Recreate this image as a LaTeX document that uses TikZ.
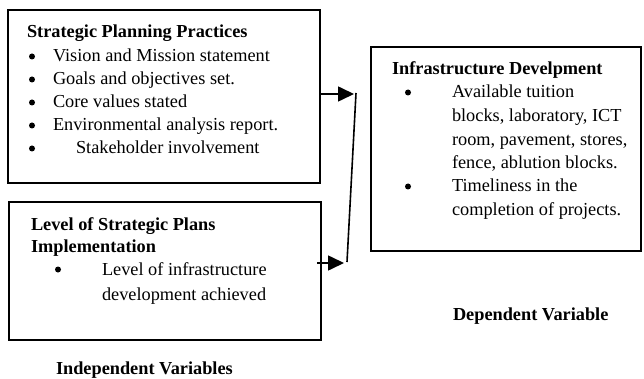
\documentclass[tikz,border=0pt]{standalone}
\usepackage{fontspec}
\setmainfont{Liberation Serif}
\usetikzlibrary{arrows.meta}
\begin{document}
\begin{tikzpicture}[x=1pt,y=-1pt,
  box/.style={draw=black,line width=1.6pt,anchor=north west,inner sep=0pt,outer sep=0pt},
  txt/.style={anchor=base west,inner sep=0pt,outer sep=0pt,font=\fontsize{18.3pt}{22pt}\selectfont},
  ttl/.style={txt,font=\fontsize{18.3pt}{22pt}\selectfont\bfseries},
  bul/.style={circle,fill=black,inner sep=0pt,outer sep=0pt,minimum size=6pt},
  conn/.style={line width=1.6pt},
  arr/.style={conn,-{Triangle[length=16pt,width=15pt]}}]
\useasboundingbox (0,0) rectangle (644,379);
% boxes
\node[box,minimum width=312pt,minimum height=173pt] (b1) at (8,10) {};
\node[box,minimum width=312pt,minimum height=138pt] (b2) at (9,202) {};
\node[box,minimum width=270pt,minimum height=204pt] (b3) at (371,47) {};
% box 1 text
\node[ttl] (t1) at (27,38) {Strategic Planning Practices};
\node[bul] (u11) at (32,56.5) {};
\node[txt] (l11) at (53,62) {Vision and Mission statement};
\node[bul] (u12) at (32,79.5) {};
\node[txt] (l12) at (53,85) {Goals and objectives set.};
\node[bul] (u13) at (32,102.5) {};
\node[txt] (l13) at (53,108) {Core values stated};
\node[bul] (u14) at (32,125.5) {};
\node[txt] (l14) at (53,131) {Environmental analysis report.};
\node[bul] (u15) at (32,148.5) {};
\node[txt] (l15) at (76,154) {Stakeholder involvement};
% box 2 text
\node[ttl] (t2a) at (31,230) {Level of Strategic Plans};
\node[ttl] (t2b) at (31,252) {Implementation};
\node[bul] (u21) at (58,269.5) {};
\node[txt] (l21) at (102,275) {Level of infrastructure};
\node[txt] (l22) at (102,300) {development achieved};
% box 3 text
\node[ttl] (t3) at (392,75) {Infrastructure Develpment};
\node[bul] (u31) at (408,92.5) {};
\node[txt] (l31) at (452,98) {Available tuition};
\node[txt] (l32) at (452,122) {blocks, laboratory, ICT};
\node[txt] (l33) at (452,146) {room, pavement, stores,};
\node[txt] (l34) at (452,169) {fence, ablution blocks.};
\node[bul] (u32) at (408,186.5) {};
\node[txt] (l35) at (452,192) {Timeliness in the};
\node[txt] (l36) at (452,215) {completion of projects.};
% captions
\node[ttl] (cap1) at (56,374) {Independent Variables};
\node[ttl] (cap2) at (453,320) {Dependent Variable};
% connectors
\coordinate (a1s) at (b1.east |- 0,94);
\coordinate (a1e) at (354,94);
\coordinate (a2s) at (317,263);
\coordinate (a2e) at (344,263);
\coordinate (j1) at (356,93);
\coordinate (j2) at (347,262);
\draw[arr] (a1s) -- (a1e);
\draw[arr] (a2s) -- (a2e);
\draw[conn] (j1) -- (j2);
\end{tikzpicture}
\end{document}
